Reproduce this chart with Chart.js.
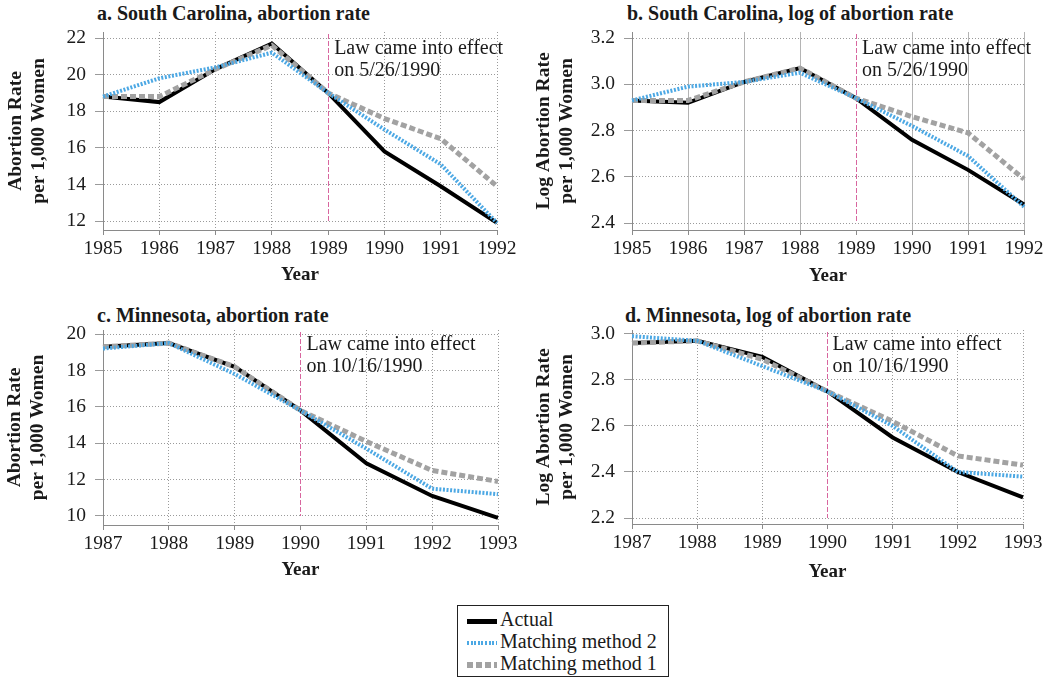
<!DOCTYPE html>
<html>
<head>
<meta charset="utf-8">
<script src="https://cdn.jsdelivr.net/npm/chart.js@4.4.1/dist/chart.umd.min.js"></script>
<style>
  body { margin: 0; background: #fff; width: 1050px; height: 680px; position: relative; overflow: hidden;
         font-family: "Liberation Serif", "DejaVu Serif", serif; color: #1a1a1a; }
  .panel { position: absolute; }
  .ptitle { position: absolute; font-weight: bold; font-size: 20px; line-height: 22px; white-space: nowrap; }
  #legend { position: absolute; left: 457px; top: 605px; width: 210px; height: 70px; border: 1px solid #222;
            font-size: 20px; }
  .row { position: absolute; left: 9px; height: 22px; line-height: 22px; white-space: nowrap; }
  .sw { display: inline-block; width: 30px; vertical-align: middle; margin-right: 3px; }
</style>
</head>
<body>

<div class="ptitle" style="left:97px;top:2px">a. South Carolina, abortion rate</div>
<div class="ptitle" style="left:627px;top:2px">b. South Carolina, log of abortion rate</div>
<div class="ptitle" style="left:97px;top:304px">c. Minnesota, abortion rate</div>
<div class="ptitle" style="left:625px;top:304px">d. Minnesota, log of abortion rate</div>

<div class="panel" style="left:0;top:0;width:525px;height:295px"><canvas id="pa"></canvas></div>
<div class="panel" style="left:525px;top:0;width:525px;height:295px"><canvas id="pb"></canvas></div>
<div class="panel" style="left:0;top:300px;width:525px;height:290px"><canvas id="pc"></canvas></div>
<div class="panel" style="left:525px;top:300px;width:525px;height:290px"><canvas id="pd"></canvas></div>

<div id="legend"></div>

<script>
// values
const yearsSC = ["1985", "1986", "1987", "1988", "1989", "1990", "1991", "1992"];
const yearsMN = ["1987", "1988", "1989", "1990", "1991", "1992", "1993"];

const scRateActual  = [18.8, 18.5, 20.3, 21.7, 19.0, 15.8, 13.9, 11.9];
const scRateMethod2 = [18.8, 19.8, 20.4, 21.2, 19.0, 17.0, 15.1, 11.9];
const scRateMethod1 = [18.8, 18.8, 20.3, 21.6, 19.0, 17.6, 16.5, 13.9];

const scLogActual  = [2.93, 2.92, 3.01, 3.07, 2.94, 2.76, 2.63, 2.48];
const scLogMethod2 = [2.93, 2.99, 3.01, 3.05, 2.94, 2.82, 2.69, 2.47];
const scLogMethod1 = [2.93, 2.93, 3.01, 3.07, 2.94, 2.86, 2.79, 2.59];

const mnRateActual  = [19.3, 19.5, 18.2, 15.8, 12.9, 11.1, 9.9];
const mnRateMethod2 = [19.2, 19.5, 17.8, 15.8, 13.7, 11.5, 11.2];
const mnRateMethod1 = [19.3, 19.5, 18.2, 15.8, 14.1, 12.5, 11.9];

const mnLogActual  = [2.96, 2.97, 2.90, 2.75, 2.55, 2.40, 2.29];
const mnLogMethod2 = [2.99, 2.97, 2.86, 2.75, 2.60, 2.40, 2.38];
const mnLogMethod1 = [2.96, 2.97, 2.89, 2.75, 2.62, 2.47, 2.43];

const rateTicksSC = [12, 14, 16, 18, 20, 22];
const logTicksSC = [2.4, 2.6, 2.8, 3.0, 3.2];
const rateTicksMN = [10, 12, 14, 16, 18, 20];
const logTicksMN = [2.2, 2.4, 2.6, 2.8, 3.0];

const seriesNames = ["Actual", "Matching method 2", "Matching method 1"];
const lawYearSC = "1989";
const lawYearMN = "1990";
const lawTextSC = ["Law came into effect", "on 5/26/1990"];
const lawTextMN = ["Law came into effect", "on 10/16/1990"];

const FONT = '"Liberation Serif", "DejaVu Serif", serif';
const TEXT = "#1a1a1a";
const BLUE = "#4ca8e4";
const GRAY = "#a2a2a2";

// dashed pink marker for the year the law took effect, plus its note
const lawLine = {
  id: "lawLine",
  beforeDatasetsDraw(chart, args, opts) {
    const { ctx, chartArea, scales } = chart;
    const raw = scales.x.getPixelForValue(chart.data.labels.indexOf(opts.year));
    const px = Math.round(raw - 0.5) + 0.5;
    ctx.save();
    ctx.strokeStyle = "#d8669f";
    ctx.lineWidth = 1;
    ctx.setLineDash([5, 2]);
    ctx.beginPath();
    ctx.moveTo(px, chartArea.top + 2);
    ctx.lineTo(px, scales.y.getPixelForValue(scales.y.ticks[0].value));
    ctx.stroke();
    ctx.restore();
  },
  afterDraw(chart, args, opts) {
    const { ctx, chartArea, scales } = chart;
    const px = scales.x.getPixelForValue(chart.data.labels.indexOf(opts.year));
    ctx.save();
    ctx.fillStyle = TEXT;
    ctx.font = "20px " + FONT;
    ctx.textBaseline = "middle";
    opts.text.forEach((t, i) => ctx.fillText(t, px + opts.dx, chartArea.top + opts.dy + i * 21.5));
    ctx.restore();
  },
};

function makePanel(id, p) {
  const labels = p.years;
  const vGrid = p.vSolid ? "#b4b4b4" : "#9a9a9a";
  return new Chart(document.getElementById(id).getContext("2d"), {
    type: "line",
    data: {
      labels,
      datasets: [
        { label: seriesNames[0], data: p.actual, borderColor: "#000", borderWidth: 4, order: 3, clip: 6 },
        { label: seriesNames[1], data: p.m2, borderColor: BLUE, borderWidth: 4, borderDash: [2, 1.6], order: 1, clip: 6 },
        { label: seriesNames[2], data: p.m1, borderColor: GRAY, borderWidth: 5, borderDash: [6, 3], order: 2, clip: 6 },
      ],
    },
    options: {
      responsive: true,
      maintainAspectRatio: false,
      animation: false,
      devicePixelRatio: 1,
      elements: { point: { radius: 0 }, line: { tension: 0, fill: false } },
      layout: { padding: { left: 0, right: p.w - p.area.right, top: p.area.top, bottom: 0 } },
      plugins: {
        legend: { display: false },
        tooltip: { enabled: false },
        lawLine: { year: p.lawYear, text: p.lawText, dx: p.dx, dy: p.dy },
      },
      scales: {
        x: {
          grid: {
            // leave the law year's grid line out so the pink marker shows cleanly
            color: (c) => (labels[c.index] === p.lawYear ? "rgba(0,0,0,0)" : vGrid),
            lineWidth: 1, tickLength: 5, tickColor: "#8a8a8a",
          },
          border: { color: "#8a8a8a", dash: p.vSolid ? [] : [1, 2] },
          ticks: { color: TEXT, font: { family: FONT, size: 19.5 }, padding: 2, maxRotation: 0, autoSkip: false },
          title: { display: true, text: "Year", color: TEXT, font: { family: FONT, size: 19, weight: "bold" },
                   padding: { top: 0, bottom: p.yearPad } },
          afterFit: (s) => { s.height = p.h - p.area.bottom; },
        },
        y: {
          min: p.yMin,
          max: p.yMax,
          afterBuildTicks: (s) => { s.ticks = p.ticks.map((v) => ({ value: v })); },
          grid: { color: "#9a9a9a", lineWidth: 1, tickLength: 8, tickColor: "#9a9a9a" },
          border: { color: "#8a8a8a", dash: [1, 2] },
          ticks: { color: TEXT, font: { family: FONT, size: 19.5 }, padding: 9,
                   callback: (v) => p.decimals ? Number(v).toFixed(p.decimals) : String(v) },
          title: { display: true, text: p.ytitle, color: TEXT, font: { family: FONT, size: 19.5, weight: "bold" },
                   padding: { top: p.ytPad, bottom: 0 } },
          afterFit: (s) => { s.width = p.area.left; },
        },
      },
    },
    plugins: [lawLine],
  });
}

makePanel("pa", {
  years: yearsSC, actual: scRateActual, m2: scRateMethod2, m1: scRateMethod1, ticks: rateTicksSC, decimals: 0,
  yMin: 11.51, yMax: 22.33,
  ytitle: ["Abortion Rate", "per 1,000 Women"], lawYear: lawYearSC, lawText: lawTextSC, dx: 6, dy: 17,
  w: 525, h: 295, area: { left: 103, right: 497, top: 32, bottom: 230 }, ytPad: 4, yearPad: 9,
});
makePanel("pb", {
  years: yearsSC, actual: scLogActual, m2: scLogMethod2, m1: scLogMethod1, ticks: logTicksSC, decimals: 1,
  yMin: 2.370, yMax: 3.226, vSolid: true,
  ytitle: ["Log Abortion Rate", "per 1,000 Women"], lawYear: lawYearSC, lawText: lawTextSC, dx: 6, dy: 17,
  w: 525, h: 295, area: { left: 107, right: 499, top: 32, bottom: 230 }, ytPad: 7, yearPad: 8,
});
makePanel("pc", {
  years: yearsMN, actual: mnRateActual, m2: mnRateMethod2, m1: mnRateMethod1, ticks: rateTicksMN, decimals: 0,
  yMin: 9.505, yMax: 20.22,
  ytitle: ["Abortion Rate", "per 1,000 Women"], lawYear: lawYearMN, lawText: lawTextMN, dx: 6, dy: 15,
  w: 525, h: 290, area: { left: 103, right: 498, top: 30, bottom: 225 }, ytPad: 3, yearPad: 9,
});
makePanel("pd", {
  years: yearsMN, actual: mnLogActual, m2: mnLogMethod2, m1: mnLogMethod1, ticks: logTicksMN, decimals: 1,
  yMin: 2.174, yMax: 3.017,
  ytitle: ["Log Abortion Rate", "per 1,000 Women"], lawYear: lawYearMN, lawText: lawTextMN, dx: 5, dy: 15,
  w: 525, h: 290, area: { left: 107, right: 498, top: 30, bottom: 224 }, ytPad: 7, yearPad: 7,
});

// shared legend box under the four panels
const swatches = [
  "height:5px;background:#000",
  "height:4px;background:repeating-linear-gradient(90deg," + BLUE + " 0 2px,transparent 2px 3.6px)",
  "height:6px;background:repeating-linear-gradient(90deg," + GRAY + " 0 6px,transparent 6px 9px)",
];
const legend = document.getElementById("legend");
seriesNames.forEach((name, i) => {
  const row = document.createElement("div");
  row.className = "row";
  row.style.top = (2 + i * 22) + "px";
  row.innerHTML = '<span class="sw" style="' + swatches[i] + '"></span>' + name;
  legend.appendChild(row);
});
</script>
</body>
</html>
